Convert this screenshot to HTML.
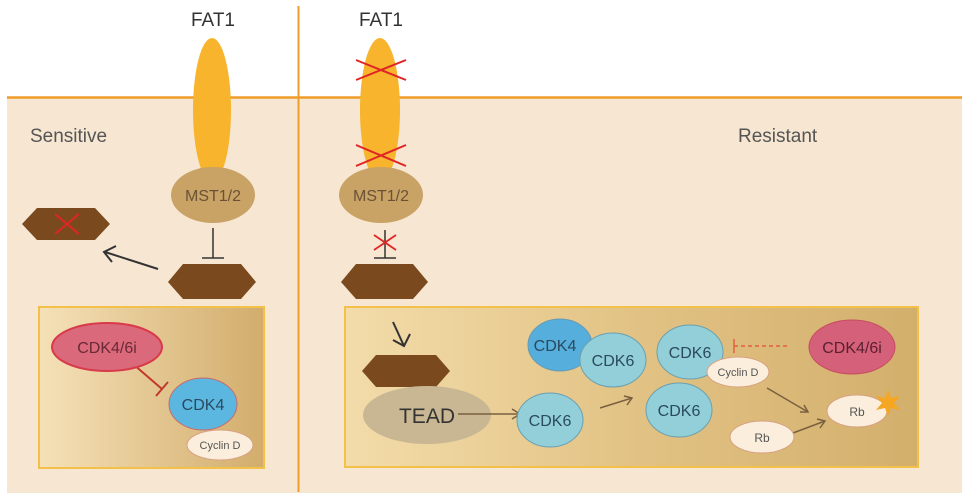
<!DOCTYPE html>
<html><head><meta charset="utf-8"><style>body{margin:0;background:#fff}svg{display:block}text{font-family:"Liberation Sans",sans-serif}</style></head><body>
<svg width="969" height="499" viewBox="0 0 969 499" xmlns="http://www.w3.org/2000/svg">
<defs>
<linearGradient id="g" x1="0" x2="1" y1="0" y2="0"><stop offset="0" stop-color="#f5e1b8"/><stop offset="1" stop-color="#d2ad6c"/></linearGradient>
<linearGradient id="g2" x1="0" x2="1" y1="0" y2="0"><stop offset="0" stop-color="#f3dcaa"/><stop offset="0.5" stop-color="#e2c385"/><stop offset="1" stop-color="#d3af6c"/></linearGradient>
</defs>
<rect x="7" y="97" width="955" height="396" fill="#f6e6d2"/>
<line x1="7" y1="97.5" x2="962" y2="97.5" stroke="#ef9d2a" stroke-width="2.5"/>
<line x1="298.5" y1="6" x2="298.5" y2="492" stroke="#ef9d2a" stroke-width="2"/>
<text x="213" y="26" font-size="19" fill="#333" text-anchor="middle">FAT1</text>
<text x="381" y="26" font-size="19" fill="#333" text-anchor="middle">FAT1</text>
<text x="30" y="142" font-size="19" fill="#555">Sensitive</text>
<text x="738" y="142" font-size="19" fill="#555">Resistant</text>
<!-- left column -->
<ellipse cx="212" cy="110" rx="19" ry="72" fill="#f7b42c"/>
<ellipse cx="213" cy="195" rx="42" ry="28" fill="#c9a265"/>
<text x="213" y="201" font-size="16" fill="#6b5235" text-anchor="middle">MST1/2</text>
<line x1="213" y1="228" x2="213" y2="258" stroke="#333" stroke-width="1.5"/>
<line x1="202" y1="258" x2="224" y2="258" stroke="#333" stroke-width="1.5"/>
<polygon points="168,282 183,264 241,264 256,282 241,299 183,299" fill="#7a4a1e"/>
<polygon points="22,224 37,208 95,208 110,224 95,240 37,240" fill="#7a4a1e"/>
<path d="M55,214 L79,234 M55,234 L79,214" stroke="#e02525" stroke-width="2"/>
<line x1="158" y1="269" x2="105" y2="252" stroke="#333" stroke-width="2"/>
<path d="M116,246 L104,252 L112,262" fill="none" stroke="#333" stroke-width="2"/>
<rect x="39" y="307" width="225" height="161" fill="url(#g)" stroke="#f3c04a" stroke-width="2"/>
<line x1="133" y1="364" x2="162" y2="389" stroke="#c0392b" stroke-width="2"/>
<line x1="156" y1="396" x2="168" y2="382" stroke="#c0392b" stroke-width="2"/>
<ellipse cx="107" cy="347" rx="55" ry="24" fill="#d9697b" stroke="#d83a4a" stroke-width="2"/>
<text x="107" y="353" font-size="16" fill="#6a2a35" text-anchor="middle">CDK4/6i</text>
<ellipse cx="203" cy="404" rx="34" ry="26" fill="#5bb7df" stroke="#c76a6a" stroke-width="1"/>
<text x="203" y="410" font-size="16" fill="#2a4a60" text-anchor="middle">CDK4</text>
<ellipse cx="220" cy="445" rx="33" ry="15" fill="#fbeedc" stroke="#d8a080" stroke-width="1"/>
<text x="220" y="449" font-size="11" fill="#555" text-anchor="middle">Cyclin D</text>
<!-- right column -->
<ellipse cx="380" cy="110" rx="20" ry="72" fill="#f7b42c"/>
<path d="M356,60 L406,80 M356,80 L406,60" stroke="#e02525" stroke-width="2"/>
<path d="M356,145 L406,166 M356,166 L406,145" stroke="#e02525" stroke-width="2"/>
<ellipse cx="381" cy="195" rx="42" ry="28" fill="#c9a265"/>
<text x="381" y="201" font-size="16" fill="#6b5235" text-anchor="middle">MST1/2</text>
<line x1="385" y1="230" x2="385" y2="258" stroke="#333" stroke-width="1.5"/>
<line x1="374" y1="258" x2="396" y2="258" stroke="#333" stroke-width="1.5"/>
<path d="M374,235 L396,250 M374,250 L396,235" stroke="#e02525" stroke-width="1.8"/>
<polygon points="341,282 356,264 413,264 428,282 413,299 356,299" fill="#7a4a1e"/>
<rect x="345" y="307" width="573" height="160" fill="url(#g2)" stroke="#f3c04a" stroke-width="2"/>
<line x1="393" y1="322" x2="404" y2="346" stroke="#333" stroke-width="2"/>
<path d="M393,340 L404,346 L410,334" fill="none" stroke="#333" stroke-width="2"/>
<polygon points="362,371 376,355 436,355 450,371 436,387 376,387" fill="#7a4a1e"/>
<ellipse cx="427" cy="415" rx="64" ry="29" fill="#c9b794"/>
<text x="427" y="423" font-size="21" fill="#333" text-anchor="middle">TEAD</text>
<line x1="458" y1="414" x2="520" y2="414" stroke="#7a6040" stroke-width="1.5"/>
<path d="M512,409 L520,414 L512,419" fill="none" stroke="#7a6040" stroke-width="1.5"/>
<ellipse cx="550" cy="420" rx="33" ry="27" fill="#93cfd8" stroke="#6aa0b0" stroke-width="1"/>
<text x="550" y="426" font-size="16" fill="#2a4a60" text-anchor="middle">CDK6</text>
<line x1="600" y1="408" x2="632" y2="398" stroke="#7a6040" stroke-width="1.5"/>
<path d="M624,396 L632,398 L627,405" fill="none" stroke="#7a6040" stroke-width="1.5"/>
<ellipse cx="560" cy="345" rx="32" ry="26" fill="#55aedb" stroke="#6a9ab0" stroke-width="1"/>
<text x="555" y="351" font-size="16" fill="#2a4a60" text-anchor="middle">CDK4</text>
<ellipse cx="613" cy="360" rx="33" ry="27" fill="#93cfd8" stroke="#6aa0b0" stroke-width="1"/>
<text x="613" y="366" font-size="16" fill="#2a4a60" text-anchor="middle">CDK6</text>
<ellipse cx="690" cy="352" rx="33" ry="27" fill="#93cfd8" stroke="#6aa0b0" stroke-width="1"/>
<text x="690" y="358" font-size="16" fill="#2a4a60" text-anchor="middle">CDK6</text>
<ellipse cx="679" cy="410" rx="33" ry="27" fill="#93cfd8" stroke="#6aa0b0" stroke-width="1"/>
<text x="679" y="416" font-size="16" fill="#2a4a60" text-anchor="middle">CDK6</text>
<ellipse cx="738" cy="372" rx="31" ry="15" fill="#fbeedc" stroke="#d8a080" stroke-width="1"/>
<text x="738" y="376" font-size="11" fill="#555" text-anchor="middle">Cyclin D</text>
<line x1="734" y1="346" x2="790" y2="346" stroke="#e06040" stroke-width="1.5" stroke-dasharray="4,3"/>
<line x1="734" y1="339" x2="734" y2="353" stroke="#e06040" stroke-width="1.5"/>
<ellipse cx="852" cy="347" rx="43" ry="27" fill="#d4607a" stroke="#c84a60" stroke-width="1"/>
<text x="852" y="353" font-size="16" fill="#5a2030" text-anchor="middle">CDK4/6i</text>
<line x1="767" y1="388" x2="808" y2="412" stroke="#7a6040" stroke-width="1.5"/>
<path d="M800,412 L808,412 L804,405" fill="none" stroke="#7a6040" stroke-width="1.5"/>
<line x1="793" y1="433" x2="825" y2="421" stroke="#7a6040" stroke-width="1.5"/>
<path d="M817,419 L825,421 L820,428" fill="none" stroke="#7a6040" stroke-width="1.5"/>
<ellipse cx="762" cy="437" rx="32" ry="16" fill="#fbeedc" stroke="#d8a080" stroke-width="1"/>
<text x="762" y="442" font-size="12" fill="#555" text-anchor="middle">Rb</text>
<ellipse cx="857" cy="411" rx="30" ry="16" fill="#fbeedc" stroke="#d8a080" stroke-width="1"/>
<text x="857" y="416" font-size="12" fill="#555" text-anchor="middle">Rb</text>
<polygon points="888,390 891,398 900,396 894,403 900,410 891,408 888,416 885,408 876,410 882,403 876,396 885,398" fill="#f5a623"/>
</svg>
</body></html>
